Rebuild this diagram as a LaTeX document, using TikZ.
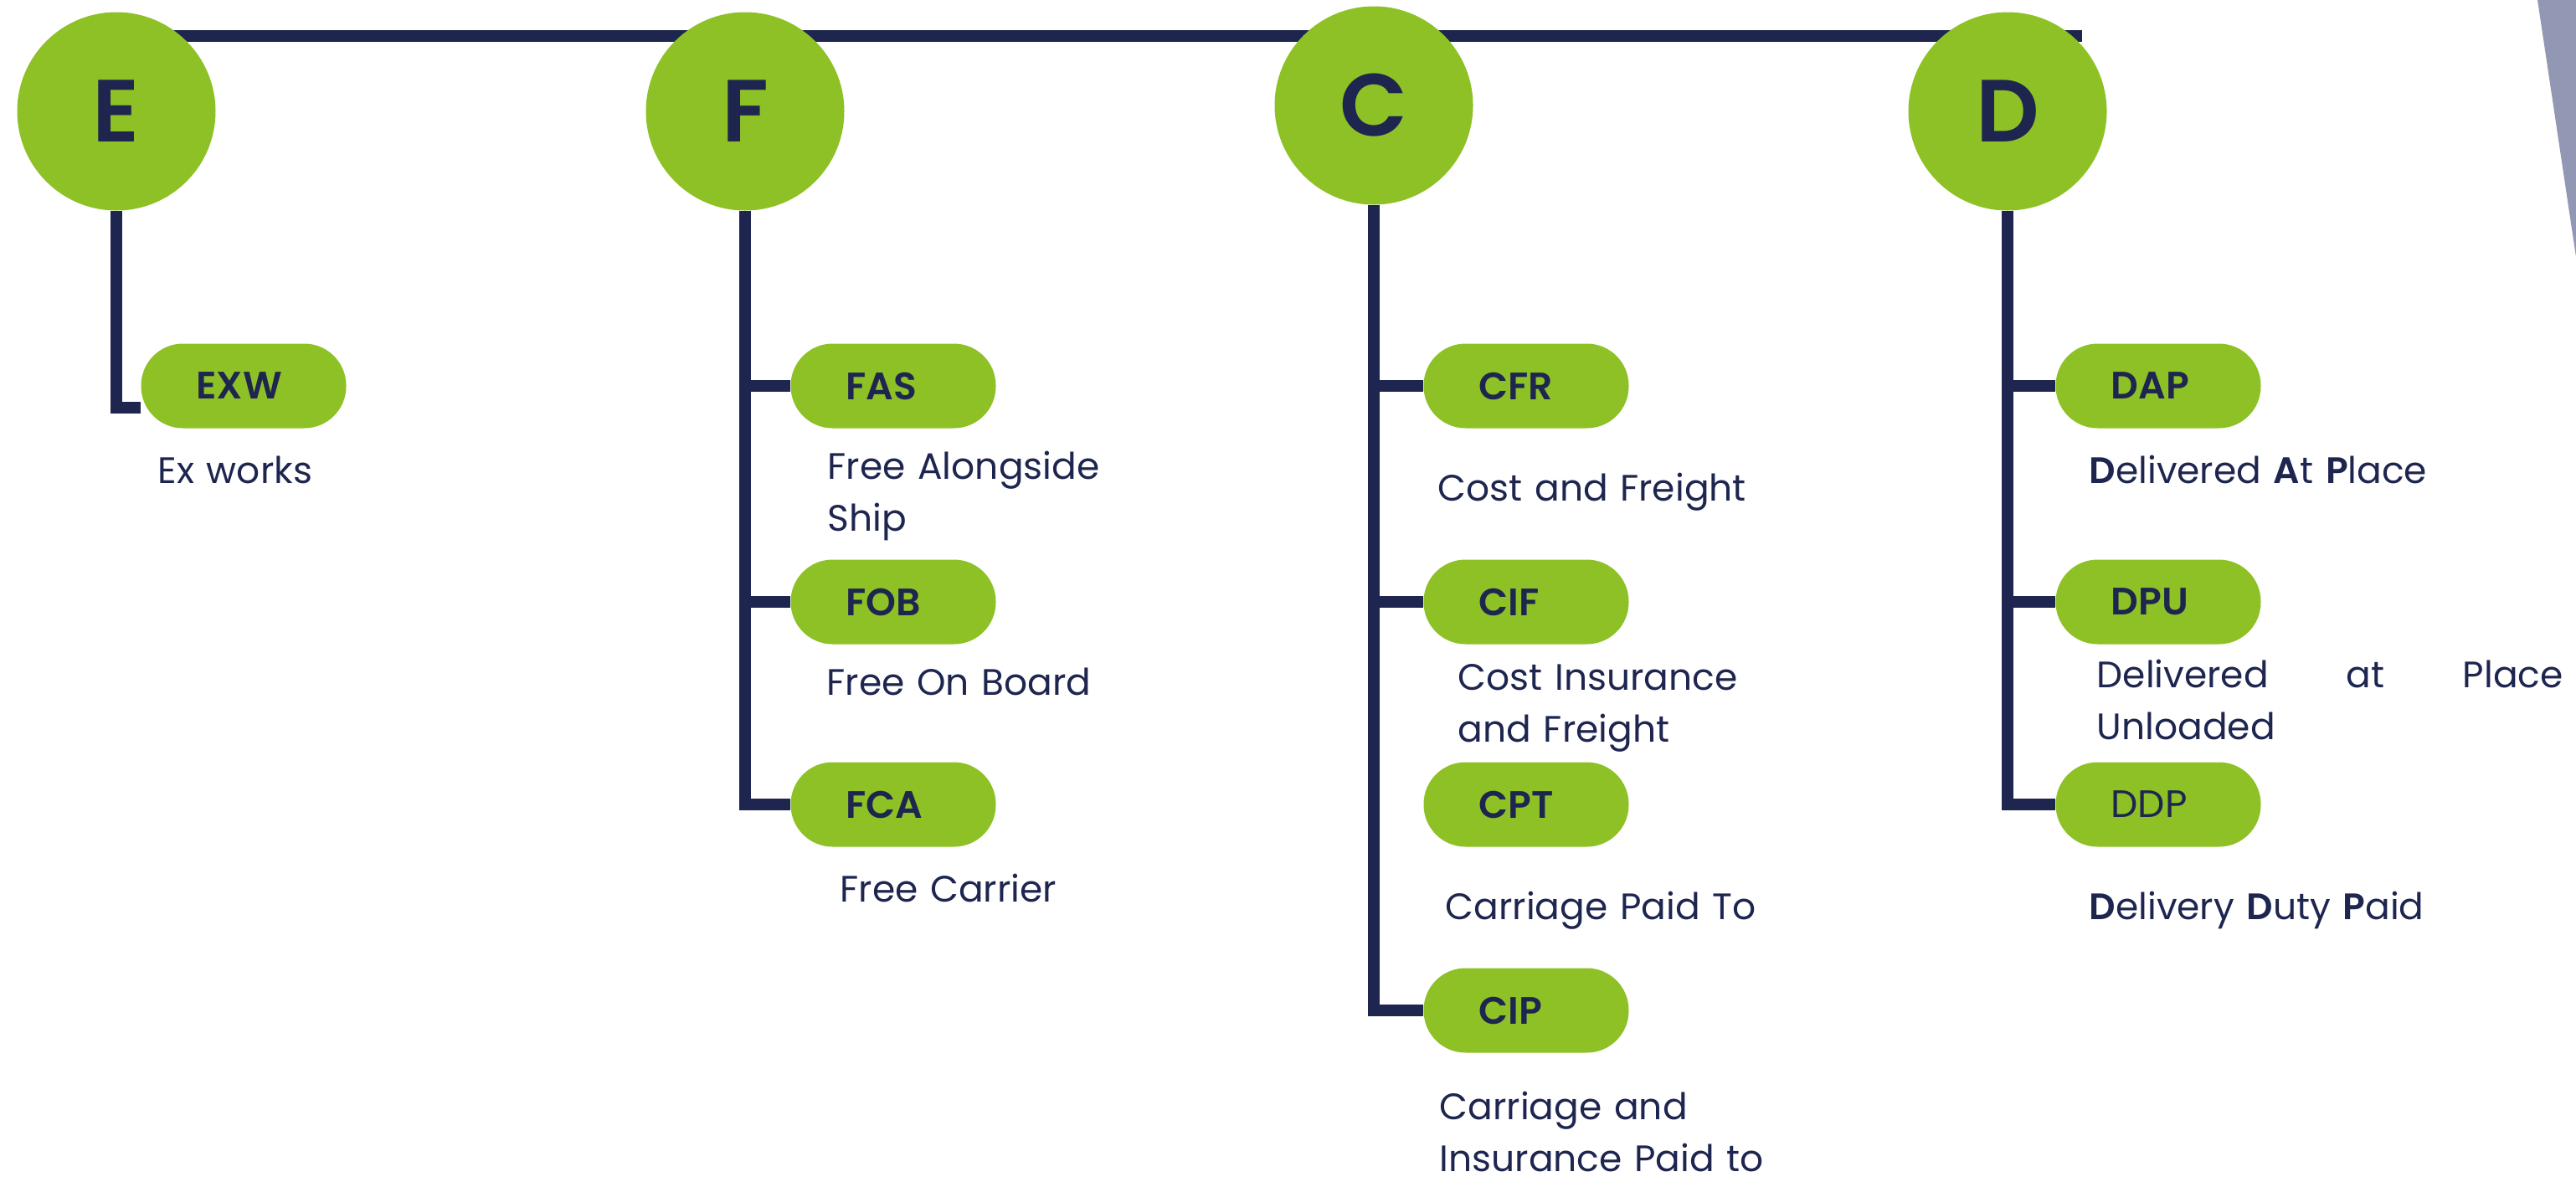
\documentclass[tikz,border=0pt]{standalone}
\usepackage{fontspec}
\setmainfont{Poppins}[BoldFont={Poppins SemiBold}]
\usetikzlibrary{backgrounds}
\definecolor{leafgreen}{RGB}{141,193,38}
\definecolor{inknavy}{RGB}{30,38,80}
\definecolor{slateblue}{RGB}{146,151,179}

\begin{document}
\begin{tikzpicture}[
  group/.style={circle, fill=leafgreen, text=inknavy, minimum size=2.37cm, inner sep=0pt, font=\fontsize{30}{36}\selectfont\bfseries},
  term/.style={fill=leafgreen, text=inknavy, rounded corners=0.5cm, minimum width=2.45cm, minimum height=1.01cm, text width=1.13cm, inner xsep=0.66cm, inner ysep=0pt, align=left, font=\fontsize{13}{15}\selectfont\bfseries},
  desc/.style={anchor=base west, inner sep=0pt, text=inknavy, text width=#1, align=left, font=\fontsize{12.5}{17.9}\selectfont},
  desc/.default=5cm,
  link/.style={line width=4pt, inknavy}
]
  \useasboundingbox (0,0) rectangle (30.77,-14.11);
  \fill[slateblue] (30.31,0) -- (30.77,0) -- (30.77,-3.07) -- cycle;

  % the four groups
  \node[group] (E) at (1.39,-1.33) {E};
  \node[group] (F) at (8.90,-1.33) {F};
  \node[group] (C) at (16.41,-1.26) {C};
  \node[group] (D) at (23.98,-1.33) {D};
  \coordinate (topend) at (24.87,-0.43);

  % terms
  \node[term] (exw) at (2.91,-4.61) {EXW};
  \node[term] (fas) at (10.67,-4.61) {FAS};
  \node[term] (fob) at (10.67,-7.19) {FOB};
  \node[term] (fca) at (10.67,-9.61) {FCA};
  \node[term] (cfr) at (18.23,-4.61) {CFR};
  \node[term] (cif) at (18.23,-7.19) {CIF};
  \node[term] (cpt) at (18.23,-9.61) {CPT};
  \node[term] (cip) at (18.23,-12.07) {CIP};
  \node[term] (dap) at (25.78,-4.61) {DAP};
  \node[term] (dpu) at (25.78,-7.19) {DPU};
  \node[term, font=\fontsize{13}{15}\selectfont] (ddp) at (25.78,-9.61) {DDP};

  % descriptions
  \node[desc] (exwtxt) at (1.88,-5.77) {Ex works};
  \node[desc] (fastxt) at (9.88,-5.72) {Free Alongside\\Ship};
  \node[desc] (fobtxt) at (9.87,-8.30) {Free On Board};
  \node[desc] (fcatxt) at (10.03,-10.77) {Free Carrier};
  \node[desc] (cfrtxt) at (17.17,-5.98) {Cost and Freight};
  \node[desc] (ciftxt) at (17.41,-8.24) {Cost Insurance\\and Freight};
  \node[desc] (cpttxt) at (17.26,-10.98) {Carriage Paid To};
  \node[desc] (ciptxt) at (17.19,-13.37) {Carriage and\\Insurance Paid to};
  \node[desc] (daptxt) at (24.95,-5.77) {\textbf{D}elivered \textbf{A}t \textbf{P}lace};
  \node[desc=5.57cm] (dputxt) at (25.04,-8.21) {Delivered\hfill at\hfill Place\\Unloaded};
  \node[desc] (ddptxt) at (24.95,-10.98) {\textbf{D}elivery \textbf{D}uty \textbf{P}aid};

  \begin{scope}[on background layer]
    \draw[link] (E |- topend) -- (topend);
    \draw[link] (E.south) |- ([yshift=-2.6mm]exw.west);
    \draw[link] (F.south) |- (fas.west);
    \draw[link] (F.south) |- (fob.west);
    \draw[link] (F.south) |- (fca.west);
    \draw[link] (C.south) |- (cfr.west);
    \draw[link] (C.south) |- (cif.west);
    \draw[link] (C.south) |- (cip.west);
    \draw[link] (D.south) |- (dap.west);
    \draw[link] (D.south) |- (dpu.west);
    \draw[link] (D.south) |- (ddp.west);
  \end{scope}
\end{tikzpicture}
\end{document}
